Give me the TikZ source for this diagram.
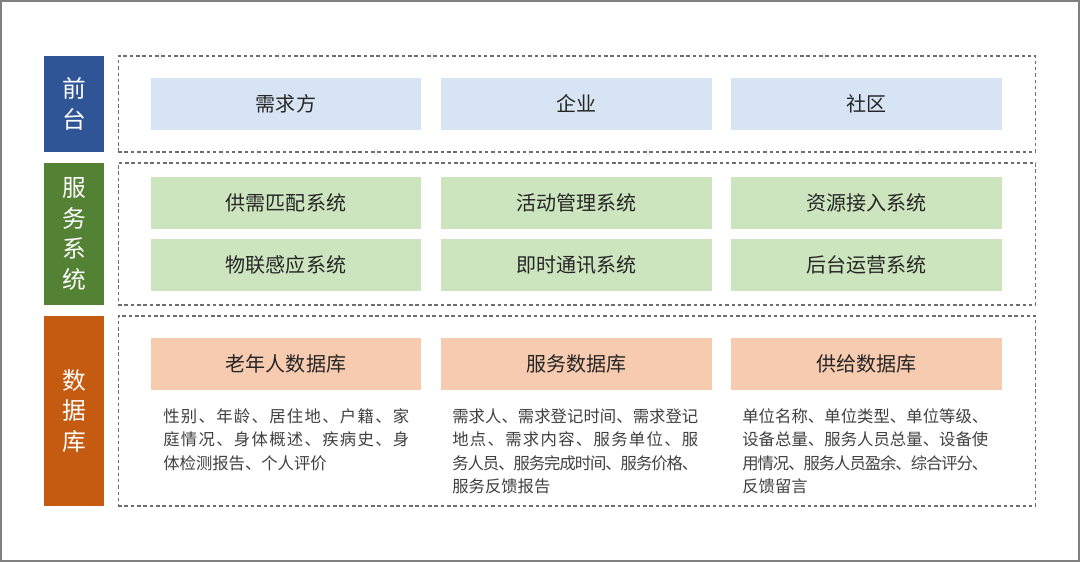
\documentclass[tikz,border=0pt]{standalone}
\usepackage{fontspec}
\setmainfont{Noto Sans CJK SC}
\usepackage{xcolor}
\definecolor{layerblue}{RGB}{47,85,151}
\definecolor{layergreen}{RGB}{84,130,53}
\definecolor{layerorange}{RGB}{197,90,17}
\definecolor{paleblue}{RGB}{214,228,243}
\definecolor{palegreen}{RGB}{204,229,190}
\definecolor{paleorange}{RGB}{247,203,175}
\definecolor{framegray}{RGB}{128,128,128}
\definecolor{dashgray}{RGB}{110,110,110}
\definecolor{textgray}{RGB}{64,64,64}
% justified line: spreads the characters over the column width
\def\spreadend{}
\def\spreadfirst#1{#1\spreadnext}
\def\spreadnext#1{\ifx#1\spreadend\else\hskip 0pt plus 1fil minus 1fil #1\expandafter\spreadnext\fi}
\newcommand\spreadrow[1]{\hbox to 4.92cm{\spreadfirst#1\spreadend}}
\tikzset{
    layerlabel/.style={text=white, font=\fontsize{13.5}{17.5}\selectfont, align=center,
        minimum width=1.2cm, inner sep=0pt},
    dashframe/.style={draw=dashgray, line width=0.6pt, dash pattern=on 2pt off 1.6pt},
    cellbox/.style={minimum width=5.42cm, minimum height=1.04cm, inner sep=0pt,
        text=black!85, font=\fontsize{11.4}{13}\selectfont},
    desctext/.style={anchor=north west, inner sep=0pt, align=left, text=textgray,
        font=\fontsize{9.3}{13.4}\selectfont}
}
\begin{document}
\begin{tikzpicture}[x=0.02cm, y=-0.02cm]
    % Canvas and outer frame
    \useasboundingbox (0,0) rectangle (1080,562);
    \fill[white] (0,0) rectangle (1080,562);
    \draw[framegray, line width=1.2pt] (1,1) rectangle (1079,561);
    % Layer labels
    \node[layerlabel, fill=layerblue, minimum height=1.92cm] (front) at (74,104) {前\\台};
    \node[layerlabel, fill=layergreen, minimum height=2.84cm] (service) at (74,234) {服\\务\\系\\统};
    \node[layerlabel, fill=layerorange, minimum height=3.8cm] (database) at (74,411) {数\\据\\库};
    % Dashed frames
    \node[dashframe, minimum width=18.36cm, minimum height=1.92cm, inner sep=0pt] (frontframe) at (577,104) {};
    \node[dashframe, minimum width=18.36cm, minimum height=2.84cm, inner sep=0pt] (serviceframe) at (577,234) {};
    \node[dashframe, minimum width=18.36cm, minimum height=3.8cm, inner sep=0pt] (dataframe) at (577,411) {};
    % Front row
    \node[cellbox, fill=paleblue] (demand) at (286,104) {需求方};
    \node[cellbox, fill=paleblue] (company) at (576.5,104) {企业};
    \node[cellbox, fill=paleblue] (community) at (866.5,104) {社区};
    % Service systems
    \node[cellbox, fill=palegreen] (matching) at (286,203) {供需匹配系统};
    \node[cellbox, fill=palegreen] (activity) at (576.5,203) {活动管理系统};
    \node[cellbox, fill=palegreen] (resource) at (866.5,203) {资源接入系统};
    \node[cellbox, fill=palegreen] (iot) at (286,265) {物联感应系统};
    \node[cellbox, fill=palegreen] (message) at (576.5,265) {即时通讯系统};
    \node[cellbox, fill=palegreen] (backend) at (866.5,265) {后台运营系统};
    % Databases
    \node[cellbox, fill=paleorange] (elderdb) at (286,364) {老年人数据库};
    \node[cellbox, fill=paleorange] (servicedb) at (576.5,364) {服务数据库};
    \node[cellbox, fill=paleorange] (supplydb) at (866.5,364) {供给数据库};
    % Field lists
    \node[desctext] (elderfields) at (163,408) {\spreadrow{性别、年龄、居住地、户籍、家}\\
        \spreadrow{庭情况、身体概述、疾病史、身}\\体检测报告、个人评价};
    \node[desctext] (servicefields) at (452,408) {\spreadrow{需求人、需求登记时间、需求登记}\\
        \spreadrow{地点、需求内容、服务单位、服}\\\spreadrow{务人员、服务完成时间、服务价格、}\\服务反馈报告};
    \node[desctext] (supplyfields) at (742,408) {\spreadrow{单位名称、单位类型、单位等级、}\\
        \spreadrow{设备总量、服务人员总量、设备使}\\\spreadrow{用情况、服务人员盈余、综合评分、}\\反馈留言};
\end{tikzpicture}
\end{document}
